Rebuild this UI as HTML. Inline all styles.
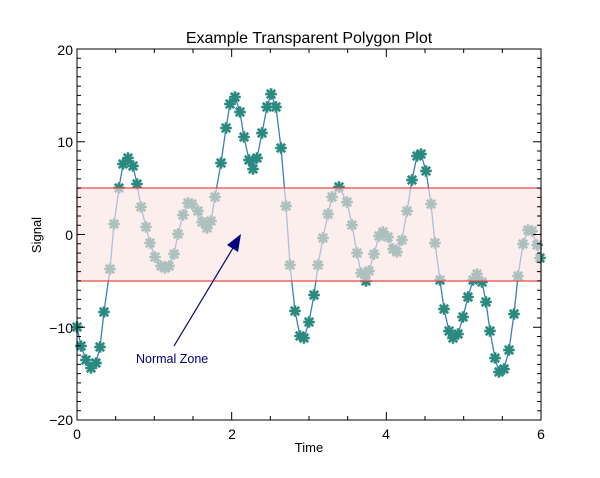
<!DOCTYPE html>
<html><head><meta charset="utf-8"><style>
body{margin:0;background:#fff}
svg{display:block;font-family:"Liberation Sans",Arial,sans-serif}
</style></head><body>
<svg width="600" height="478" viewBox="0 0 600 478">
<defs>
<g id="m"><path d="M-4.5,0H4.5M0,-4.5V4.5M-3.3,-3.3L3.3,3.3M-3.3,3.3L3.3,-3.3" stroke="#2a8a80" stroke-width="2.6" stroke-linecap="square"/></g>
</defs>
<text x="309" y="43" font-size="16" text-anchor="middle">Example Transparent Polygon Plot</text>
<g id="data">
<polyline fill="none" stroke="#3a7cc8" stroke-width="1.3" points="77,327 81,346 86,360 91,368 96,363 100,347 104,312 110,269 114,224 119,188 123,164 128,158 133,166 137,184 141,207 146,227 150,243 155,257 161,266 165,268 169,266 174,254 178,234 183,215 188,203 192,204 198,211 202,222 207,228 211,221 215,197 221,163 226,128 230,104 235,97 240,112 244,137 249,160 253,169 257,158 262,133 267,107 271,94 276,107 281,148 286,206 290,265 295,311 300,336 304,338 309,322 314,295 318,265 323,238 328,214 332,197 339,187 347,202 352,225 357,253 361,273 366,281 369,271 374,254 379,236 383,232 388,237 393,249 397,252 402,240 407,211 412,180 417,156 421,154 426,171 431,204 435,243 440,280 444,309 449,331 453,338 458,334 463,317 468,297 473,280 477,274 482,282 486,302 490,331 495,358 499,372 504,369 509,350 514,314 518,276 523,244 528,230 532,231 537,245 541,262"/>
<g>
<use href="#m" x="77" y="327"/><use href="#m" x="81" y="346"/><use href="#m" x="86" y="360"/><use href="#m" x="91" y="368"/><use href="#m" x="96" y="363"/><use href="#m" x="100" y="347"/><use href="#m" x="104" y="312"/><use href="#m" x="110" y="269"/><use href="#m" x="114" y="224"/><use href="#m" x="119" y="188"/><use href="#m" x="123" y="164"/><use href="#m" x="128" y="158"/><use href="#m" x="133" y="166"/><use href="#m" x="137" y="184"/><use href="#m" x="141" y="207"/><use href="#m" x="146" y="227"/><use href="#m" x="150" y="243"/><use href="#m" x="155" y="257"/><use href="#m" x="161" y="266"/><use href="#m" x="165" y="268"/><use href="#m" x="169" y="266"/><use href="#m" x="174" y="254"/><use href="#m" x="178" y="234"/><use href="#m" x="183" y="215"/><use href="#m" x="188" y="203"/><use href="#m" x="192" y="204"/><use href="#m" x="198" y="211"/><use href="#m" x="202" y="222"/><use href="#m" x="207" y="228"/><use href="#m" x="211" y="221"/><use href="#m" x="215" y="197"/><use href="#m" x="221" y="163"/><use href="#m" x="226" y="128"/><use href="#m" x="230" y="104"/><use href="#m" x="235" y="97"/><use href="#m" x="240" y="112"/><use href="#m" x="244" y="137"/><use href="#m" x="249" y="160"/><use href="#m" x="253" y="169"/><use href="#m" x="257" y="158"/><use href="#m" x="262" y="133"/><use href="#m" x="267" y="107"/><use href="#m" x="271" y="94"/><use href="#m" x="276" y="107"/><use href="#m" x="281" y="148"/><use href="#m" x="286" y="206"/><use href="#m" x="290" y="265"/><use href="#m" x="295" y="311"/><use href="#m" x="300" y="336"/><use href="#m" x="304" y="338"/><use href="#m" x="309" y="322"/><use href="#m" x="314" y="295"/><use href="#m" x="318" y="265"/><use href="#m" x="323" y="238"/><use href="#m" x="328" y="214"/><use href="#m" x="332" y="197"/><use href="#m" x="339" y="187"/><use href="#m" x="347" y="202"/><use href="#m" x="352" y="225"/><use href="#m" x="357" y="253"/><use href="#m" x="361" y="273"/><use href="#m" x="366" y="281"/><use href="#m" x="369" y="271"/><use href="#m" x="374" y="254"/><use href="#m" x="379" y="236"/><use href="#m" x="383" y="232"/><use href="#m" x="388" y="237"/><use href="#m" x="393" y="249"/><use href="#m" x="397" y="252"/><use href="#m" x="402" y="240"/><use href="#m" x="407" y="211"/><use href="#m" x="412" y="180"/><use href="#m" x="417" y="156"/><use href="#m" x="421" y="154"/><use href="#m" x="426" y="171"/><use href="#m" x="431" y="204"/><use href="#m" x="435" y="243"/><use href="#m" x="440" y="280"/><use href="#m" x="444" y="309"/><use href="#m" x="449" y="331"/><use href="#m" x="453" y="338"/><use href="#m" x="458" y="334"/><use href="#m" x="463" y="317"/><use href="#m" x="468" y="297"/><use href="#m" x="473" y="280"/><use href="#m" x="477" y="274"/><use href="#m" x="482" y="282"/><use href="#m" x="486" y="302"/><use href="#m" x="490" y="331"/><use href="#m" x="495" y="358"/><use href="#m" x="499" y="372"/><use href="#m" x="504" y="369"/><use href="#m" x="509" y="350"/><use href="#m" x="514" y="314"/><use href="#m" x="518" y="276"/><use href="#m" x="523" y="244"/><use href="#m" x="528" y="230"/><use href="#m" x="532" y="231"/><use href="#m" x="537" y="245"/><use href="#m" x="540" y="258"/>
</g>
</g>
<rect x="77" y="188" width="464" height="93" fill="rgb(252,227,227)" fill-opacity="0.62" stroke="#f04040" stroke-width="1.2"/>
<rect x="77" y="49" width="464" height="371" fill="none" stroke="#000" stroke-width="1"/>
<path stroke="#000" stroke-width="1" fill="none" d="
M77,420v-8M115.67,420v-4M154.33,420v-4M193,420v-4M231.67,420v-8M270.33,420v-4M309,420v-4M347.67,420v-4M386.33,420v-8M425,420v-4M463.67,420v-4M502.33,420v-4M541,420v-8
M77,49v8M115.67,49v4M154.33,49v4M193,49v4M231.67,49v8M270.33,49v4M309,49v4M347.67,49v4M386.33,49v8M425,49v4M463.67,49v4M502.33,49v4M541,49v8
M77,58.3h4M77,67.6h4M77,76.8h4M77,86.1h4M77,95.4h4M77,104.7h4M77,113.9h4M77,123.2h4M77,132.5h4M77,141.8h8M77,151h4M77,160.3h4M77,169.6h4M77,178.9h4M77,188.1h4M77,197.4h4M77,206.7h4M77,216h4M77,225.2h4M77,234.5h8M77,243.8h4M77,253.1h4M77,262.3h4M77,271.6h4M77,280.9h4M77,290.2h4M77,299.4h4M77,308.7h4M77,318h4M77,327.3h8M77,336.5h4M77,345.8h4M77,355.1h4M77,364.4h4M77,373.6h4M77,382.9h4M77,392.2h4M77,401.5h4M77,410.7h4
M541,58.3h-4M541,67.6h-4M541,76.8h-4M541,86.1h-4M541,95.4h-4M541,104.7h-4M541,113.9h-4M541,123.2h-4M541,132.5h-4M541,141.8h-8M541,151h-4M541,160.3h-4M541,169.6h-4M541,178.9h-4M541,188.1h-4M541,197.4h-4M541,206.7h-4M541,216h-4M541,225.2h-4M541,234.5h-8M541,243.8h-4M541,253.1h-4M541,262.3h-4M541,271.6h-4M541,280.9h-4M541,290.2h-4M541,299.4h-4M541,308.7h-4M541,318h-4M541,327.3h-8M541,336.5h-4M541,345.8h-4M541,355.1h-4M541,364.4h-4M541,373.6h-4M541,382.9h-4M541,392.2h-4M541,401.5h-4M541,410.7h-4"/>
<g font-size="14" text-anchor="middle">
<text x="77" y="439">0</text><text x="232" y="439">2</text><text x="386" y="439">4</text><text x="541" y="439">6</text>
</g>
<g font-size="14" text-anchor="end">
<text x="73" y="55">20</text><text x="73" y="147">10</text><text x="73" y="240">0</text><text x="73" y="333">−10</text><text x="73" y="425">−20</text>
</g>
<text x="309" y="452" font-size="13" text-anchor="middle">Time</text>
<text x="41" y="235" font-size="13" text-anchor="middle" transform="rotate(-90 41 235)">Signal</text>
<line x1="174" y1="346" x2="233" y2="248" stroke="#00007f" stroke-width="1.2"/>
<polygon points="241,234 238,252 227,245" fill="#00007f"/>
<text x="136" y="363" font-size="12.5" fill="#00007f">Normal Zone</text>
</svg>
</body></html>
